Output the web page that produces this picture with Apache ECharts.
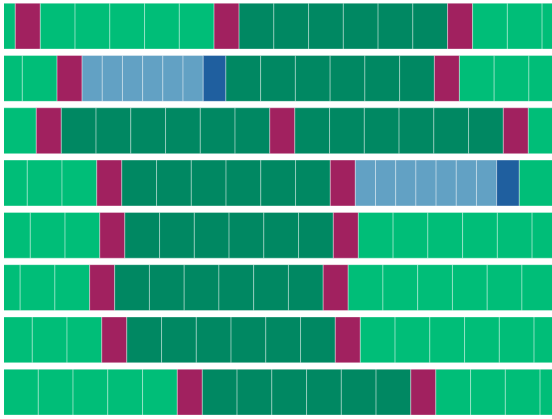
<!DOCTYPE html>
<html>
<head>
<meta charset="utf-8">
<script src="https://cdn.jsdelivr.net/npm/echarts@6/dist/echarts.min.js"></script>
<style>
  html, body { margin: 0; padding: 0; background: #fff; }
  #main { width: 552px; height: 419px; }
</style>
</head>
<body>
<div id="main"></div>
<script>
// row labels (hidden axis) and where each row begins, in cell units
var rowNames = ['r1', 'r2', 'r3', 'r4', 'r5', 'r6', 'r7', 'r8'];
var rowStarts = [-0.675, -0.473, -0.071, -0.330, -0.243, -0.535, -0.186, -0.013];

// cell kinds: G light green, D dark green, M magenta, L light blue, B dark blue
var kindWidths = { G: 1, D: 1, M: 0.72, L: 0.581, B: 0.652 };
var kindColors = { G: '#00be78', D: '#008862', M: '#a1215f', L: '#62a1c4', B: '#1f5f9f' };

var row1 = ['G','M','G','G','G','G','G','M','D','D','D','D','D','D','M','G','G','G'];
var row2 = ['G','G','M','L','L','L','L','L','L','B','D','D','D','D','D','D','M','G','G','G'];
var row3 = ['G','M','D','D','D','D','D','D','M','D','D','D','D','D','D','M','G','G'];
var row4 = ['G','G','G','M','D','D','D','D','D','D','M','L','L','L','L','L','L','L','B','G','G'];
var row5 = ['G','G','G','M','D','D','D','D','D','D','M','G','G','G','G','G','G'];
var row6 = ['G','G','G','M','D','D','D','D','D','D','M','G','G','G','G','G','G'];
var row7 = ['G','G','G','M','D','D','D','D','D','D','M','G','G','G','G','G','G'];
var row8 = ['G','G','G','G','G','M','D','D','D','D','D','D','M','G','G','G','G'];
var rows = [row1, row2, row3, row4, row5, row6, row7, row8];

var cells = [];
rows.forEach(function (seq, r) {
  var x = rowStarts[r];
  seq.forEach(function (k) {
    var w = kindWidths[k];
    cells.push({ value: [x, x + w, r], itemStyle: { color: kindColors[k] } });
    x += w;
  });
});

var chart = echarts.init(document.getElementById('main'));
chart.setOption({
  animation: false,
  grid: { left: 4, right: 0, top: -3.35, bottom: 0.7 },
  xAxis: { type: 'value', min: 0, max: 548 / 34.75, show: false },
  yAxis: { type: 'category', data: rowNames, inverse: true, show: false },
  series: [{
    type: 'custom',
    clip: true,
    renderItem: function (params, api) {
      var p0 = api.coord([api.value(0), api.value(2)]);
      var p1 = api.coord([api.value(1), api.value(2)]);
      var h = api.size([0, 1])[1] * 0.8765;
      return {
        type: 'rect',
        shape: { x: p0[0], y: p0[1] - h / 2, width: p1[0] - p0[0], height: h },
        style: {
          fill: api.visual('color'),
          stroke: 'rgba(255,255,255,0.35)',
          lineWidth: 1
        }
      };
    },
    encode: { x: [0, 1], y: 2 },
    data: cells
  }]
});
</script>
</body>
</html>
